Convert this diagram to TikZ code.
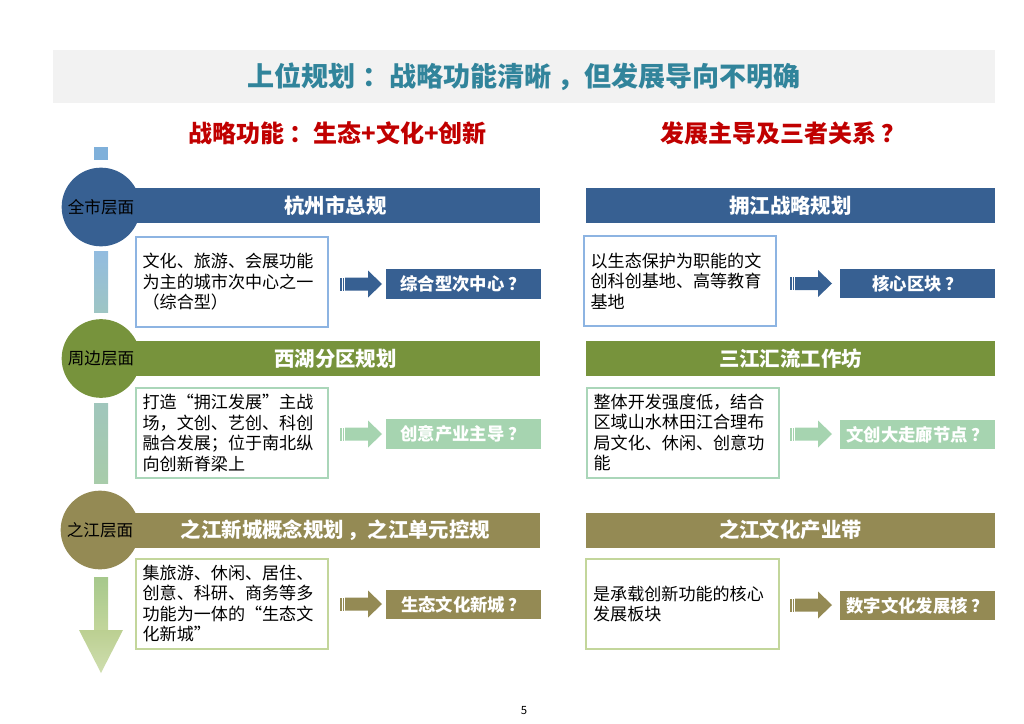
\documentclass[tikz,border=0pt]{standalone}
\usepackage{fontspec}
\setmainfont{Noto Sans CJK SC}
\usepackage{xcolor}
\usetikzlibrary{positioning}
\definecolor{planblue}{RGB}{55,96,146}
\definecolor{plangreen}{RGB}{119,147,60}
\definecolor{planolive}{RGB}{148,138,84}
\definecolor{planmint}{RGB}{166,212,176}
\definecolor{edgeblue}{RGB}{141,180,226}
\definecolor{edgemint}{RGB}{170,214,185}
\definecolor{edgelime}{RGB}{195,214,155}
\definecolor{bandgray}{RGB}{242,242,242}
\definecolor{titleteal}{RGB}{49,132,155}
\definecolor{subred}{RGB}{192,0,0}
\definecolor{topsq}{RGB}{127,176,218}
\newcommand{\qm}{\hspace{0.2em}？}
% striped block arrow: left x, centre y, colour
\newcommand{\fatarrow}[3]{%
  \fill[#3] (#1,#2-6.5) rectangle (#1+1.5,#2+6.5);
  \fill[#3] (#1+2.5,#2-6.5) rectangle (#1+4,#2+6.5);
  \fill[#3] (#1+5,#2-6.5) -- (#1+28,#2-6.5) -- (#1+28,#2-13.5) -- (#1+42,#2)
    -- (#1+28,#2+13.5) -- (#1+28,#2+6.5) -- (#1+5,#2+6.5) -- cycle;}

\begin{document}
\begin{tikzpicture}[x=0.75pt,y=-0.75pt,
    head/.style={rectangle,fill=#1,text=white,minimum width=306.75pt,minimum height=26.25pt,
      inner sep=0pt,font=\fontsize{15.3pt}{18pt}\selectfont\bfseries},
    desc/.style={rectangle,draw=#1,line width=1.5pt,fill=white,text width=134pt,inner xsep=5.25pt,
      minimum height=67.5pt,align=left,font=\fontsize{12.8pt}{15.4pt}\selectfont},
    res/.style={rectangle,fill=#1,text=white,minimum width=116.25pt,minimum height=22pt,
      inner sep=0pt,font=\fontsize{13pt}{15pt}\selectfont\bfseries},
    lvl/.style={circle,fill=#1,minimum size=59pt,inner sep=0pt,font=\fontsize{12.4pt}{15pt}\selectfont},
    sub/.style={text=subred,font=\fontsize{18pt}{22pt}\selectfont\bfseries}]
  \useasboundingbox (0,0) rectangle (1024,724);
  % title
  \node[fill=bandgray,minimum width=706.5pt,minimum height=39.75pt,inner sep=0pt,text=titleteal,
    font=\fontsize{20.3pt}{24pt}\selectfont\bfseries] (title) at (524,76.5)
    {上位规划\hspace{0.25em}：战略功能清晰\hspace{0.2em}，但发展导向不明确};
  \node[sub] (subl) at (338,133) {战略功能\hspace{0.2em}：生态+文化+创新};
  \node[sub] (subr) at (783,133) {发展主导及三者关系\qm};
  % timeline
  \fill[topsq] (94,147) rectangle (108,160);
  \shade[top color=topsq!85!white,bottom color={rgb,255:red,158;green,197;blue,196}] (94,251) rectangle (108,312);
  \shade[top color={rgb,255:red,160;green,198;blue,188},bottom color={rgb,255:red,168;green,204;blue,170}] (94,403) rectangle (108,483);
  \shade[top color={rgb,255:red,166;green,200;blue,140},bottom color=edgelime] (94,577) rectangle (108,631);
  \shade[top color=edgelime!90!plangreen,bottom color=edgelime!80!white] (79,630) -- (123,630) -- (101,673) -- cycle;
  % headers
  \node[head=planblue] (hzzg) at (335.5,205.5) {杭州市总规};
  \node[head=planblue] (yjzl) at (790.5,205.5) {拥江战略规划};
  \node[head=plangreen] (xhfq) at (335.5,358.5) {西湖分区规划};
  \node[head=plangreen] (sjhl) at (790.5,358.5) {三江汇流工作坊};
  \node[head=planolive] (zjxc) at (335.5,530) {之江新城概念规划\hspace{0.15em}，之江单元控规};
  \node[head=planolive] (zjwh) at (790.5,530) {之江文化产业带};
  % levels
  \node[lvl=planblue] (quanshi) at (101,207) {全市层面};
  \node[lvl=plangreen] (zhoubian) at (101,358.5) {周边层面};
  \node[lvl=planolive] (zhijiang) at (100,530) {之江层面};
  % descriptions
  \node[desc=edgeblue] (d1) at (232,282) {文化、旅游、会展功能\\为主的城市次中心之一\\（综合型）};
  \node[desc=edgeblue] (d2) at (680,281) {以生态保护为职能的文\\创科创基地、高等教育\\基地};
  \node[desc=edgemint] (d3) at (232,433) {打造“拥江发展”主战\\场，文创、艺创、科创\\融合发展；位于南北纵\\向创新脊梁上};
  \node[desc=edgemint] (d4) at (683,432.5) {整体开发强度低，结合\\区域山水林田江合理布\\局文化、休闲、创意功\\能};
  \node[desc=edgelime] (d5) at (232,603.5) {集旅游、休闲、居住、\\创意、科研、商务等多\\功能为一体的“生态文\\化新城”};
  \node[desc=edgelime] (d6) at (682.5,604) {是承载创新功能的核心\\发展板块};
  % results
  \node[res=planblue] (r1) at (463,284) {综合型次中心\qm};
  \node[res=planblue] (r2) at (917.5,283.5) {核心区块\qm};
  \node[res=planmint] (r3) at (463,434) {创意产业主导\qm};
  \node[res=planmint] (r4) at (917.5,434.5) {文创大走廊节点\qm};
  \node[res=planolive] (r5) at (463.5,604.5) {生态文化新城\qm};
  \node[res=planolive] (r6) at (917.5,605.5) {数字文化发展核\qm};
  \fatarrow{340}{284}{planblue}
  \fatarrow{790}{283.5}{planblue}
  \fatarrow{340}{434}{planmint}
  \fatarrow{790}{434}{planmint}
  \fatarrow{340}{604}{planolive}
  \fatarrow{790}{605}{planolive}
  \node[font=\fontsize{8.5pt}{10pt}\selectfont] (page) at (524,711) {5};
\end{tikzpicture}
\end{document}
